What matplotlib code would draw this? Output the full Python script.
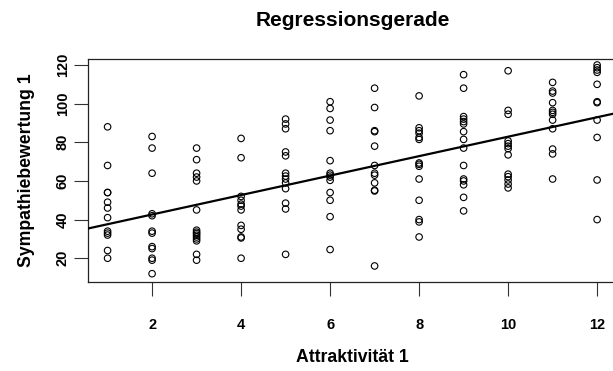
import matplotlib
matplotlib.use("Agg")
import matplotlib.pyplot as plt
import numpy as np

plt.rcParams["font.family"] = ["Liberation Sans", "DejaVu Sans"]
plt.rcParams["font.weight"] = "bold"

# Sympathy ratings per attractiveness level (1..12)
levels = list(range(1, 13))
sym_1 = [88, 68, 54, 54, 49, 46, 41, 34, 33, 32, 24, 20]
sym_2 = [83, 77, 64, 43, 42, 34, 33, 26, 25, 20, 19, 12]
sym_3 = [77, 71, 64, 62, 60, 45, 34.5, 33.5, 32.8, 31.9, 31, 30, 29, 22, 19]
sym_4 = [82, 72, 52, 50, 48, 47, 45, 37, 35, 31, 30.5, 20]
sym_5 = [92, 89.5, 87, 75, 73, 64, 62.5, 61, 59, 56, 48.5, 45.5, 22]
sym_6 = [101, 97.5, 91.5, 86, 70.5, 64, 63, 62, 60.3, 54, 50, 41.5, 24.5]
sym_7 = [108, 98, 86, 85.5, 78, 68, 64, 63, 59, 55.2, 54.8, 16]
sym_8 = [104, 87.5, 86, 84.7, 82.5, 81.5, 69.3, 68.6, 67.6, 61, 50, 40, 38.8, 31]
sym_9 = [115, 108, 93.3, 92, 90.7, 89.5, 85.5, 81.5, 77, 68, 61, 60, 58, 51.5, 44.5]
sym_10 = [117, 96.5, 94.5, 80.7, 79.3, 78, 76.7, 73.5, 63.5, 62.2, 60.5, 58.4, 56.4]
sym_11 = [111, 106.5, 105.5, 100.5, 96.5, 95.5, 94.5, 91.5, 87, 76.5, 74, 61]
sym_12 = [120, 118.6, 117.4, 116.2, 110, 101, 100.5, 91.5, 82.5, 60.5, 40]
ratings = [sym_1, sym_2, sym_3, sym_4, sym_5, sym_6,
           sym_7, sym_8, sym_9, sym_10, sym_11, sym_12]

x = np.concatenate([[lv] * len(r) for lv, r in zip(levels, ratings)]).astype(float)
y = np.concatenate(ratings).astype(float)
slope, intercept = np.polyfit(x, y, 1)

fig = plt.figure(figsize=(6.13, 3.71), dpi=100)
ax = fig.add_axes([88 / 613, 89 / 371, 528.7 / 613, 223 / 371])

ax.scatter(x, y, s=22, facecolors="none", edgecolors="black", linewidths=0.8, zorder=3)

# least-squares line across the full x range
xlim = (0.56, 12.44)
xs = np.array(xlim)
ax.plot(xs, intercept + slope * xs, color="black", lw=1.6, zorder=4)

ax.set_xlim(*xlim)
ax.set_ylim(7.7, 123.1)
ax.set_xticks([2, 4, 6, 8, 10, 12])
ax.set_yticks([20, 40, 60, 80, 100, 120])
ax.tick_params(axis="both", direction="out", length=10, width=0.8,
               labelsize=10.5, color="#333333")
ax.tick_params(axis="x", pad=16)
ax.tick_params(axis="y", pad=3)
for lab in ax.get_yticklabels():
    lab.set_rotation(90)
    lab.set_va("center")
for lab in ax.get_xticklabels() + ax.get_yticklabels():
    lab.set_fontweight("bold")
for sp in ax.spines.values():
    sp.set_linewidth(0.9)
    sp.set_color("#222222")

ax.set_title("Regressionsgerade", fontsize=15, fontweight="bold", pad=24)
ax.set_xlabel("Attraktivität 1", fontsize=12.7, fontweight="bold", labelpad=12)
ax.set_ylabel("Sympathiebewertung 1", fontsize=12.7, fontweight="bold", labelpad=15)

fig.savefig("out.png", dpi=100)
